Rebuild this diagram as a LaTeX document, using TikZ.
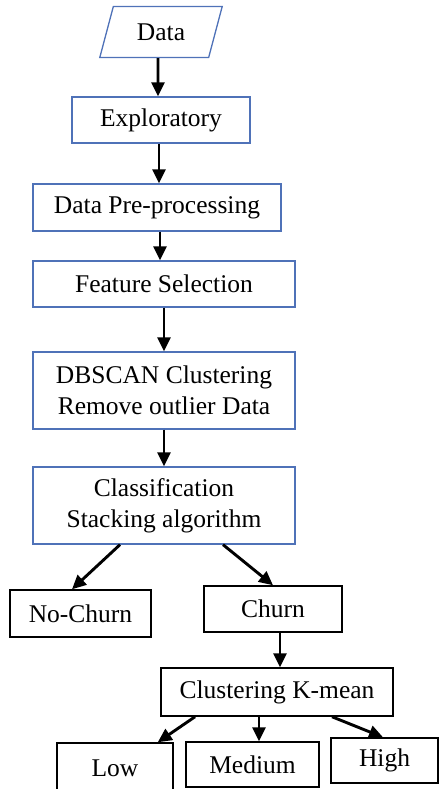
\documentclass[tikz,border=0pt]{standalone}
\usepackage{fontspec}
\setmainfont{Liberation Serif}
\usetikzlibrary{arrows.meta,shapes.geometric}
\definecolor{boxblue}{RGB}{79,114,184}

\begin{document}
\begin{tikzpicture}[x=1pt,y=-1pt,
  font=\fontsize{25.5}{31}\selectfont,
  bbox/.style={draw=boxblue,line width=1.3pt,inner sep=0pt,align=center},
  kbox/.style={draw=black,line width=1.5pt,inner sep=0pt,align=center},
  arr/.style={line width=2.9pt,-{Triangle[length=14pt,width=13pt]}}]
\useasboundingbox (0,0) rectangle (439,789);
\clip (0,0) rectangle (439,789);
\node[bbox,trapezium,trapezium left angle=68,trapezium right angle=112,trapezium stretches=true,minimum width=123,minimum height=51] (data) at (161,32) {Data};
\node[bbox,minimum width=178,minimum height=46] (expl) at (161,120) {Exploratory};
\node[bbox,minimum width=248,minimum height=47] (prep) at (157,207.5) {Data Pre-processing};
\node[bbox,minimum width=262,minimum height=46] (feat) at (164,284) {Feature Selection};
\node[bbox,minimum width=262,minimum height=77] (dbscan) at (164,390.5) {DBSCAN Clustering\\Remove outlier Data};
\node[bbox,minimum width=262,minimum height=77] (classif) at (164,505.5) {Classification\\Stacking algorithm};
\node[kbox,minimum width=141,minimum height=47] (nochurn) at (80.5,613.5) {No-Churn};
\node[kbox,minimum width=138,minimum height=46] (churn) at (273,609) {Churn};
\node[kbox,minimum width=232,minimum height=48] (kmean) at (277,692) {Clustering K-mean};
\node[kbox,minimum width=116,minimum height=50] (low) at (115,768) {Low};
\node[kbox,minimum width=133,minimum height=45] (medium) at (252.5,764.5) {Medium};
\node[kbox,minimum width=107,minimum height=45] (high) at (384.5,760.5) {High};

\draw[arr] ([xshift=-3]data.south) -- ([xshift=-3]expl.north);
\draw[arr] ([xshift=-2]expl.south) -- ([xshift=2]prep.north);
\draw[arr] ([xshift=3]prep.south) -- ([xshift=-4]feat.north);
\draw[arr] (feat.south) -- (dbscan.north);
\draw[arr] (dbscan.south) -- (classif.north);
\draw[arr] ([xshift=-44]classif.south) -- ([xshift=-8.5]nochurn.north);
\draw[arr] ([xshift=59]classif.south) -- (churn.north);
\draw[arr] ([xshift=7]churn.south) -- ([xshift=3]kmean.north);
\draw[arr] ([xshift=-82]kmean.south) -- ([xshift=-16]low.north east);
\draw[arr] ([xshift=-18]kmean.south) -- ([xshift=6.5]medium.north);
\draw[arr] ([xshift=55]kmean.south) -- ([xshift=-1.5]high.north);
\end{tikzpicture}
\end{document}
